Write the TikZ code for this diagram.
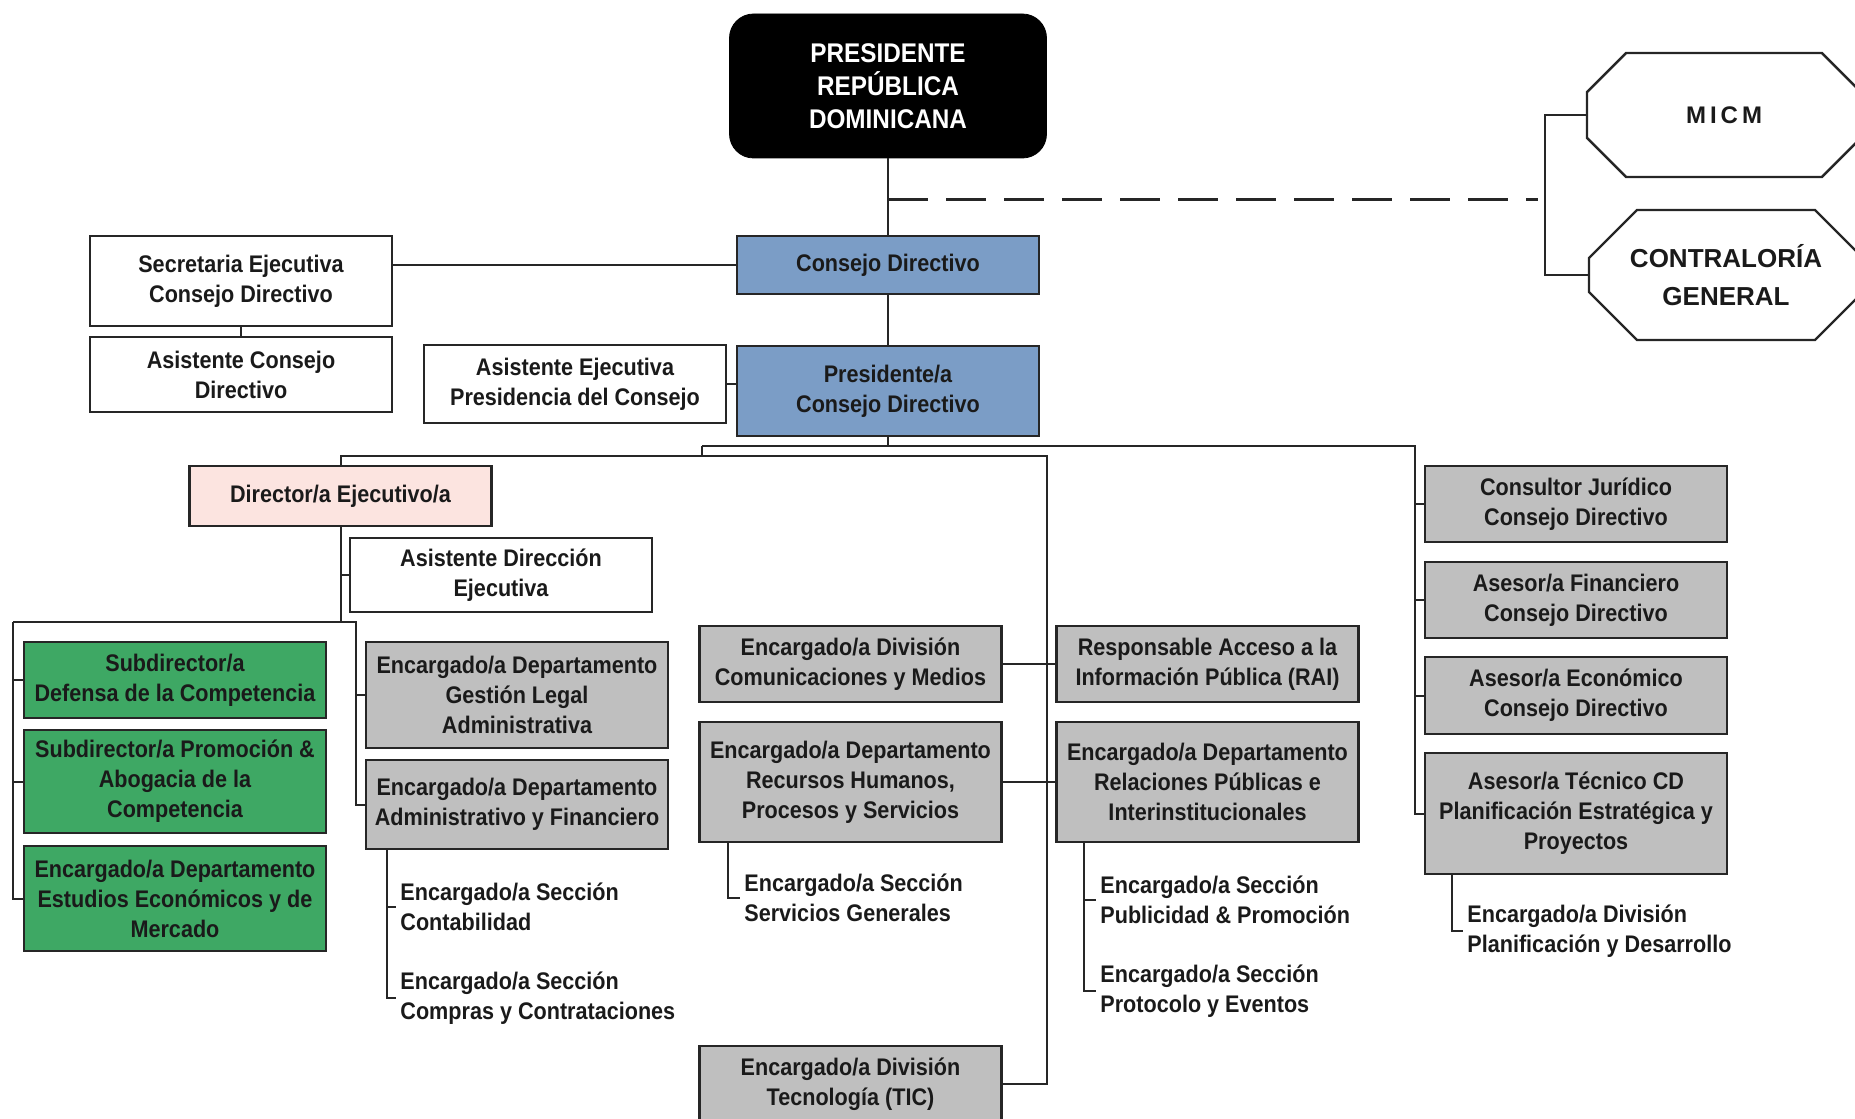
\documentclass[tikz,border=0pt]{standalone}
\usepackage{fontspec}
\setmainfont{Liberation Sans}
\newfontfamily\narrowsans{Liberation Sans}[FakeStretch=0.9]
\usepackage{tikz}
\usetikzlibrary{shapes.misc, positioning}
\definecolor{consejoblue}{RGB}{123,157,198}
\definecolor{subgreen}{RGB}{62,168,100}
\definecolor{deptgray}{RGB}{191,191,191}
\definecolor{dirpink}{RGB}{252,228,224}
\definecolor{edge}{RGB}{38,38,38}
\definecolor{ink}{RGB}{26,26,26}
\tikzstyle{unit} = [rectangle, draw=edge, line width=1.2pt, minimum width=151pt, align=center, text=ink, inner sep=0pt, font=\narrowsans\bfseries\fontsize{12}{15}\selectfont]
\tikzstyle{board} = [unit, fill=consejoblue]
\tikzstyle{sub} = [unit, fill=subgreen]
\tikzstyle{dept} = [unit, fill=deptgray]
\tikzstyle{direc} = [unit, fill=dirpink]
\tikzstyle{plainbox} = [unit, fill=white]
\tikzstyle{section} = [anchor=west, align=left, text=ink, inner sep=2pt, font=\narrowsans\bfseries\fontsize{12}{15}\selectfont]
\tikzstyle{external} = [chamfered rectangle, chamfered rectangle xsep=12pt, chamfered rectangle ysep=12pt, draw=edge, line width=1.2pt, minimum width=137pt, align=center, text=ink, font=\bfseries\fontsize{12}{14}\selectfont]
\tikzstyle{link} = [line width=1pt, draw=edge, -]

\begin{document}
\begin{tikzpicture}[x=0.5pt, y=-0.5pt]
                    \useasboundingbox (0,0) rectangle (1855,1118);
                    \clip (0,0) rectangle (1855,1118);
                    \node (pres) at (888,86) [rectangle, rounded corners=12pt, fill=black, draw=black, minimum width=158.5pt, minimum height=72pt, text=white, align=center, font=\narrowsans\bfseries\fontsize{13.5}{16.5}\selectfont] {PRESIDENTE\\REPÚBLICA\\DOMINICANA};
                    \node (consejo) at (888,265) [board, minimum height=29pt] {Consejo Directivo};
                    \node (secre) at (241,281) [plainbox, minimum height=45pt] {Secretaria Ejecutiva\\Consejo Directivo};
                    \node (asiscons) at (241,374.5) [plainbox, minimum height=37.5pt] {Asistente Consejo\\Directivo};
                    \node (asisejec) at (575,384) [plainbox, minimum height=39pt] {Asistente Ejecutiva\\Presidencia del Consejo};
                    \node (prescd) at (888,391) [board, minimum height=45pt] {Presidente/a\\Consejo Directivo};
                    \node (micm) at (1724,115) [external, minimum height=62pt] {M\,I\,C\,M};
                    \node (contra) at (1726,275) [external, minimum height=65pt, font=\bfseries\fontsize{13}{19}\selectfont] {CONTRALORÍA\\GENERAL};
                    \node (director) at (340.5,496) [direc, minimum height=30pt] {Director/a Ejecutivo/a};
                    \node (asisdir) at (501,575) [plainbox, minimum height=37pt] {Asistente Dirección\\Ejecutiva};
                    \node (defensa) at (175,680) [sub, minimum height=38pt] {Subdirector/a\\Defensa de la Competencia};
                    \node (promocion) at (175,781.5) [sub, minimum height=51.5pt] {Subdirector/a Promoción \&\\Abogacia de la\\Competencia};
                    \node (estudios) at (175,898.5) [sub, minimum height=52.5pt] {Encargado/a Departamento\\Estudios Económicos y de\\Mercado};
                    \node (legal) at (517,695) [dept, minimum height=53pt] {Encargado/a Departamento\\Gestión Legal\\Administrativa};
                    \node (admin) at (517,804.5) [dept, minimum height=44.5pt] {Encargado/a Departamento\\Administrativo y Financiero};
                    \node (conta) at (396,907) [section] {Encargado/a Sección\\Contabilidad};
                    \node (compras) at (396,998) [section] {Encargado/a Sección\\Compras y Contrataciones};
                    \node (comunic) at (850.5,664) [dept, minimum height=38pt] {Encargado/a División\\Comunicaciones y Medios};
                    \node (rrhh) at (850.5,782) [dept, minimum height=60pt] {Encargado/a Departamento\\Recursos Humanos,\\Procesos y Servicios};
                    \node (servgen) at (740,898) [section] {Encargado/a Sección\\Servicios Generales};
                    \node (tic) at (850.5,1084) [dept, minimum height=38pt] {Encargado/a División\\Tecnología (TIC)};
                    \node (rai) at (1207.5,664) [dept, minimum height=38pt] {Responsable Acceso a la\\Información Pública (RAI)};
                    \node (relpub) at (1207.5,782) [dept, minimum height=60pt] {Encargado/a Departamento\\Relaciones Públicas e\\Interinstitucionales};
                    \node (publicidad) at (1096,900) [section] {Encargado/a Sección\\Publicidad \& Promoción};
                    \node (protocolo) at (1096,991) [section] {Encargado/a Sección\\Protocolo y Eventos};
                    \node (juridico) at (1576,504) [dept, minimum height=38pt] {Consultor Jurídico\\Consejo Directivo};
                    \node (financiero) at (1576,600) [dept, minimum height=38pt] {Asesor/a Financiero\\Consejo Directivo};
                    \node (economico) at (1576,695.5) [dept, minimum height=38.5pt] {Asesor/a Económico\\Consejo Directivo};
                    \node (tecnico) at (1576,813.5) [dept, minimum height=60.5pt] {Asesor/a Técnico CD\\Planificación Estratégica y\\Proyectos};
                    \node (planif) at (1463,931) [section] {Encargado/a División\\Planificación y Desarrollo};
                    \coordinate (dashstart) at (888,200);
                    \coordinate (dashend) at (1538,200);
                    \coordinate (busA) at (702,446);
                    \coordinate (busR) at (1415,446);
                    \coordinate (busB) at (702,456);
                    \coordinate (busT) at (1047,456);
                    \coordinate (busL) at (13,622);
                    \coordinate (busM) at (356,622);
                    \draw [link] (pres) -- (consejo);
                    \draw [link, line width=1.5pt, dash pattern=on 20pt off 9pt] (dashstart) -- (dashend);
                    \draw [link] (micm.west) -- ++(-41,0) |- (contra.west);
                    \draw [link] (consejo.west) -- (consejo.west -| secre.east);
                    \draw [link] (secre) -- (asiscons);
                    \draw [link] (asisejec.east) -- (asisejec.east -| prescd.west);
                    \draw [link] (consejo) -- (prescd);
                    \draw [link] (prescd.south) -- (prescd.south |- busA);
                    \draw [link] (busA) -- (busR) |- (tecnico.west);
                    \foreach \n in {juridico, financiero, economico}
                        \draw [link] (\n.west) -- (\n.west -| busR);
                    \draw [link] (busA) -- (busB);
                    \draw [link] (director.north) |- (busT) |- (tic.east);
                    \draw [link] (comunic.east) -- (rai.west);
                    \draw [link] (rrhh.east) -- (relpub.west);
                    \draw [link] (director.south) -- (director.south |- busL);
                    \draw [link] (asisdir.west) -- (asisdir.west -| director.south);
                    \draw [link] (busL) -- (busM) |- (admin.west);
                    \draw [link] (legal.west) -- (legal.west -| busM);
                    \draw [link] (busL) |- (estudios.west);
                    \foreach \n in {defensa, promocion}
                        \draw [link] (\n.west) -- (\n.west -| busL);
                    \draw [link] (admin.south west) ++(22,0) |- (conta.west);
                    \draw [link] (admin.south west) ++(22,0) |- (compras.west);
                    \draw [link] (rrhh.south west) ++(30,0) |- (servgen.west);
                    \draw [link] (relpub.south west) ++(29,0) |- (publicidad.west);
                    \draw [link] (relpub.south west) ++(29,0) |- (protocolo.west);
                    \draw [link] (tecnico.south west) ++(28,0) |- (planif.west);
                \end{tikzpicture}
\end{document}
